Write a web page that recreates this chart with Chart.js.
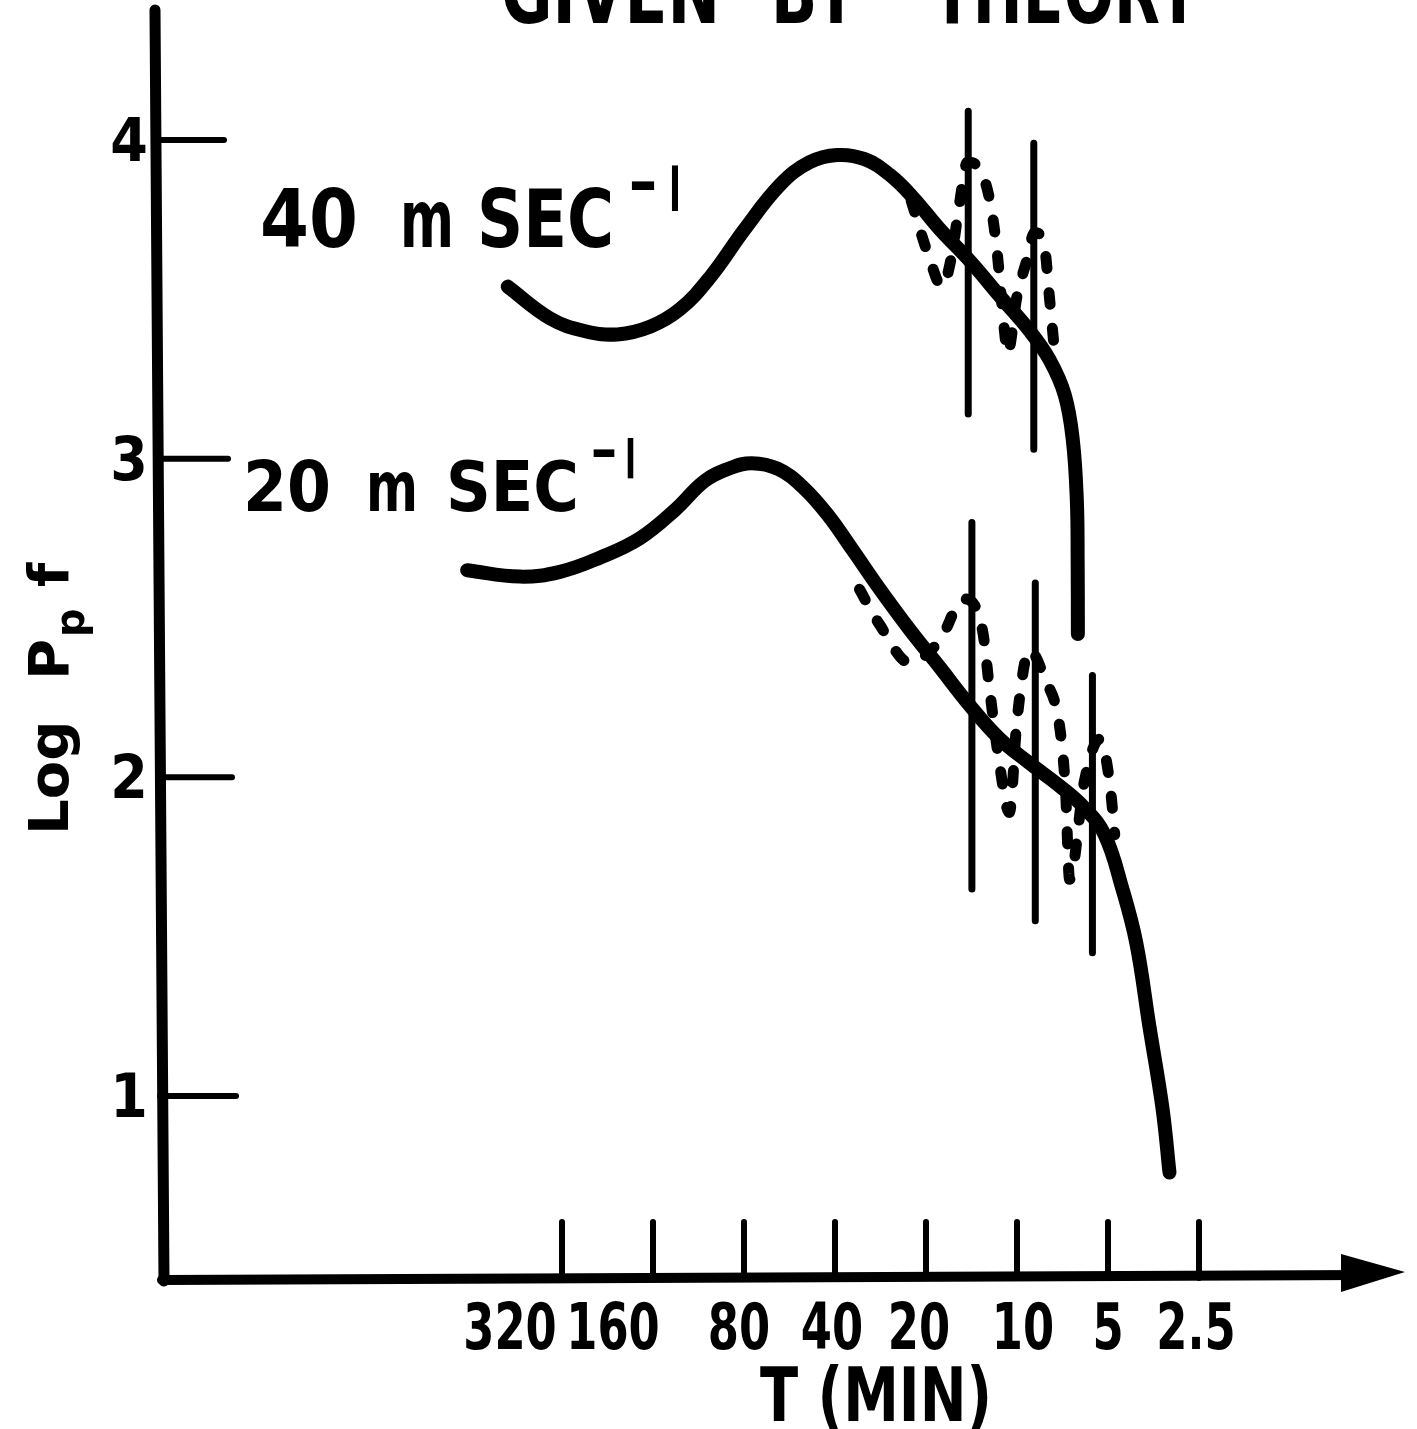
<!DOCTYPE html>
<html>
<head>
<meta charset="utf-8">
<title>Log Ppf vs T</title>
<script src="https://cdn.jsdelivr.net/npm/chart.js@4.4.1/dist/chart.umd.min.js"></script>
<style>
  html, body { margin: 0; padding: 0; background: #fff; }
  canvas { display: block; }
</style>
</head>
<body>
<canvas id="chart" width="1417" height="1429"></canvas>
<script>
// ---- data ----
const periodTicks = [320, 160, 80, 40, 20, 10, 5, 2.5];   // T (MIN)
const logTicks = [1, 2, 3, 4];                            // Log Pp f

// theory curve, 40 m/sec
const theory40T = [484, 350, 268, 210, 163, 130, 103.5, 79.6, 60.7, 48.6, 39.3, 31.9, 26.3, 22.1, 18.0, 14.3, 11.4, 9.06, 7.80, 6.95, 6.54, 6.34, 6.30, 6.29];
const theory40 = [3.54, 3.44, 3.40, 3.39, 3.415, 3.47, 3.57, 3.72, 3.86, 3.93, 3.953, 3.94, 3.89, 3.82, 3.72, 3.62, 3.51, 3.40, 3.31, 3.20, 3.06, 2.87, 2.68, 2.45];

// theory curve, 20 m/sec
const theory20T = [659, 441, 325, 239, 177, 135, 108, 89.2, 75.4, 61.7, 51.1, 42.2, 35.0, 28.5, 22.7, 18.0, 14.4, 11.5, 9.1, 7.23, 5.98, 5.13, 4.49, 4.03, 3.65, 3.30, 3.13];
const theory20 = [2.65, 2.63, 2.645, 2.69, 2.75, 2.84, 2.93, 2.97, 2.986, 2.968, 2.911, 2.823, 2.714, 2.592, 2.465, 2.345, 2.228, 2.124, 2.045, 1.973, 1.904, 1.82, 1.653, 1.48, 1.22, 0.96, 0.76];

// observed spectra (dashed)
const observed40T = [22.4, 19.5, 17.7, 16.5, 15.5, 14.6, 13.3, 12.3, 11.7, 11.0, 10.75, 10.0, 9.3, 8.75, 8.1, 7.8, 7.5];
const observed40 = [3.81, 3.63, 3.54, 3.63, 3.80, 3.93, 3.91, 3.81, 3.67, 3.40, 3.33, 3.51, 3.62, 3.71, 3.66, 3.50, 3.33];

const observed20T = [33.2, 28.5, 22.7, 18.0, 15.0, 13.0, 12.3, 11.5, 10.6, 10.0, 9.1, 8.1, 7.23, 6.91, 6.7, 5.98, 5.33, 4.93, 4.75];
const observed20 = [2.59, 2.48, 2.36, 2.43, 2.56, 2.46, 2.27, 2.06, 1.89, 2.18, 2.40, 2.31, 2.16, 1.96, 1.68, 1.99, 2.12, 1.98, 1.82];

// confidence bars
const bars40T = [14.5, 8.8];
const bars40High = [4.09, 3.99];
const bars40Low = [3.14, 3.03];

const bars20T = [14.1, 8.7, 5.63];
const bars20High = [2.80, 2.61, 2.32];
const bars20Low = [1.65, 1.55, 1.45];

// ---- helpers ----
const FONT = '"DejaVu Sans", "Liberation Sans", sans-serif';

function toPoints(xs, ys) {
  return xs.map((x, i) => ({ x: x, y: ys[i] }));
}

function curve(xs, ys, width, dash, smooth) {
  const ds = {
    data: toPoints(xs, ys),
    showLine: true,
    borderColor: "#000",
    borderWidth: width,
    borderDash: dash,
    borderCapStyle: "round",
    borderJoinStyle: "round",
    pointRadius: 0,
    fill: false
  };
  if (smooth === "monotone") {
    ds.cubicInterpolationMode = "monotone";
  } else {
    ds.tension = smooth;
  }
  return ds;
}

function barSets(xs, hi, lo) {
  return xs.map((x, i) => curve([x, x], [hi[i], lo[i]], 7, [], 0));
}

// text squeezed to a given width (the lettering is condensed)
function fitText(ctx, str, x, y, size, width) {
  ctx.save();
  ctx.font = `bold ${size}px ${FONT}`;
  const w = ctx.measureText(str).width;
  ctx.translate(x, y);
  ctx.scale(width / w, 1);
  ctx.textAlign = "left";
  ctx.textBaseline = "alphabetic";
  ctx.fillText(str, 0, 0);
  ctx.restore();
}

function centerText(ctx, str, x, y, size, sx) {
  ctx.save();
  ctx.font = `bold ${size}px ${FONT}`;
  ctx.translate(x, y);
  ctx.scale(sx, 1);
  ctx.textAlign = "center";
  ctx.textBaseline = "alphabetic";
  ctx.fillText(str, 0, 0);
  ctx.restore();
}

// ---- axes, ticks and lettering ----
const paperPlugin = {
  id: "paper",
  beforeDraw(chart) {
    const ctx = chart.ctx;
    ctx.save();
    ctx.fillStyle = "#fff";
    ctx.fillRect(0, 0, chart.width, chart.height);
    ctx.restore();
  },
  afterDraw(chart) {
    const ctx = chart.ctx;
    const area = chart.chartArea;
    const xs = chart.scales.x;
    const ys = chart.scales.y;
    ctx.save();
    ctx.strokeStyle = "#000";
    ctx.fillStyle = "#000";
    ctx.lineCap = "round";

    // y axis (slightly slanted, hand drawn)
    ctx.lineWidth = 11;
    ctx.beginPath();
    ctx.moveTo(area.left - 5, area.top);
    ctx.lineTo(area.left + 4, area.bottom + 3);
    ctx.stroke();

    // x axis with arrow
    ctx.lineWidth = 10;
    ctx.beginPath();
    ctx.moveTo(area.left + 2, area.bottom + 2);
    ctx.lineTo(area.right - 40, area.bottom - 3);
    ctx.stroke();
    ctx.beginPath();
    ctx.moveTo(area.right - 64, area.bottom - 24);
    ctx.lineTo(area.right, area.bottom - 6);
    ctx.lineTo(area.right - 64, area.bottom + 14);
    ctx.closePath();
    ctx.fill();

    // x ticks and labels
    const labelShift = [-52, -40, -5, -3, -7, 6, 0, -3];
    ctx.lineWidth = 6;
    periodTicks.forEach((t, i) => {
      const px = xs.getPixelForValue(t);
      ctx.beginPath();
      ctx.moveTo(px, area.bottom);
      ctx.lineTo(px, area.bottom - 56);
      ctx.stroke();
      centerText(ctx, String(t), px + labelShift[i], area.bottom + 71, 64, 0.7);
    });
    fitText(ctx, "T (MIN)", 760, area.bottom + 143, 74, 232);

    // y ticks and labels
    ctx.lineWidth = 6;
    logTicks.forEach(v => {
      const py = ys.getPixelForValue(v);
      ctx.beginPath();
      ctx.moveTo(area.left, py);
      ctx.lineTo(area.left + 64 + (4 - v) * 4, py);
      ctx.stroke();
      centerText(ctx, String(v), 129, py + 21, 60, 0.9);
    });

    // y title: Log Pp f (rotated)
    ctx.save();
    ctx.translate(68, 835);
    ctx.rotate(-Math.PI / 2);
    ctx.textBaseline = "alphabetic";
    ctx.textAlign = "left";
    ctx.font = `bold 56px ${FONT}`;
    ctx.fillText("Log", 0, 0);
    ctx.fillText("P", 155, 0);
    ctx.font = `bold 40px ${FONT}`;
    ctx.fillText("p", 198, 16);
    ctx.font = `bold 56px ${FONT}`;
    ctx.fillText("f", 248, 0);
    ctx.restore();

    // curve labels
    fitText(ctx, "40", 260, 247, 80, 98);
    fitText(ctx, "m", 400, 247, 80, 54);
    fitText(ctx, "SEC", 477, 247, 80, 137);
    fitText(ctx, "-", 628, 203, 60, 30);
    fitText(ctx, "I", 669, 211, 62, 12);

    fitText(ctx, "20", 243, 511, 70, 88);
    fitText(ctx, "m", 366, 511, 70, 52);
    fitText(ctx, "SEC", 446, 511, 70, 133);
    fitText(ctx, "-", 590, 469, 54, 28);
    fitText(ctx, "I", 625, 478, 56, 11);

    // title, cut off by the top edge
    fitText(ctx, "GIVEN", 501, 23, 88, 219);
    fitText(ctx, "BY", 771, 23, 88, 87);
    fitText(ctx, "THEORY", 932, 23, 88, 268);

    ctx.restore();
  }
};

const datasets = [
  curve(theory40T, theory40, 14, [], 0.4),
  curve(theory20T, theory20, 14, [], 0.4),
  curve(observed40T, observed40, 11, [12, 24], "monotone"),
  curve(observed20T, observed20, 11, [12, 24], "monotone")
].concat(barSets(bars40T, bars40High, bars40Low), barSets(bars20T, bars20High, bars20Low));

new Chart(document.getElementById("chart"), {
  type: "scatter",
  data: { datasets: datasets },
  options: {
    responsive: false,
    animation: false,
    devicePixelRatio: 1,
    layout: { padding: { left: 160, right: 12, top: 10, bottom: 151 } },
    scales: {
      x: { type: "logarithmic", reverse: true, min: 0.5206, max: 6839, display: false },
      y: { type: "linear", min: 0.429, max: 4.408, display: false }
    },
    plugins: {
      legend: { display: false },
      tooltip: { enabled: false }
    }
  },
  plugins: [paperPlugin]
});
</script>
</body>
</html>
